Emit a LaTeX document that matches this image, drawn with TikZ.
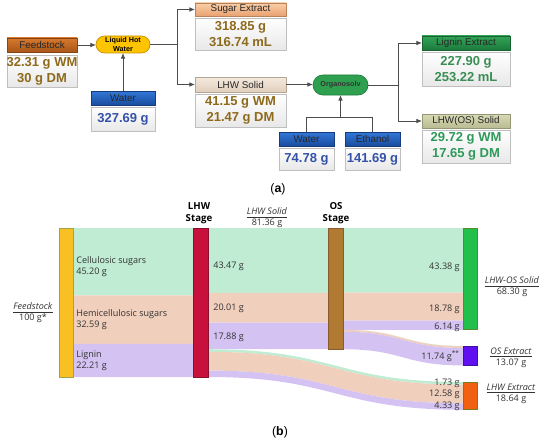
\documentclass[tikz,border=0pt]{standalone}
\usepackage{fontspec}
\setmainfont{Liberation Sans}
\newfontfamily\sk{Open Sans}
\usetikzlibrary{arrows.meta,fit,calc}
\definecolor{fsA}{HTML}{D8792E}\definecolor{fsB}{HTML}{A85618}
\definecolor{seA}{HTML}{F9CFA8}\definecolor{seB}{HTML}{E9A272}
\definecolor{lsA}{HTML}{F4EADF}\definecolor{lsB}{HTML}{E2CFBB}
\definecolor{wA}{HTML}{3278D8}\definecolor{wB}{HTML}{1A4C9E}
\definecolor{leA}{HTML}{33A457}\definecolor{leB}{HTML}{1B7A3C}
\definecolor{loA}{HTML}{D9DBB6}\definecolor{loB}{HTML}{B9BB92}
\definecolor{gold}{HTML}{8E6A1C}
\definecolor{wtxt}{HTML}{3452A8}
\definecolor{gtxt}{HTML}{3A8E55}
\definecolor{g2txt}{HTML}{2E9A5A}
\definecolor{pill}{HTML}{FFC400}\definecolor{pillD}{HTML}{C49200}
\definecolor{osv}{HTML}{2FA050}\definecolor{osvD}{HTML}{1F7F3D}
\definecolor{cel}{HTML}{BFECD2}\definecolor{hem}{HTML}{F0CFBC}\definecolor{lig}{HTML}{D4C2F2}
\definecolor{txt}{HTML}{333333}
\definecolor{fsbar}{HTML}{F8C022}\definecolor{fsbarD}{HTML}{9EA544}
\definecolor{lhbar}{HTML}{C8103C}\definecolor{lhbarD}{HTML}{8A1030}
\definecolor{osbar}{HTML}{B07A32}\definecolor{osbarD}{HTML}{8A5A2A}
\definecolor{sobar}{HTML}{22C04A}\definecolor{sobarD}{HTML}{5A8A30}
\definecolor{oxbar}{HTML}{6010F0}\definecolor{oxbarD}{HTML}{4010A0}
\definecolor{lxbar}{HTML}{F06010}\definecolor{lxbarD}{HTML}{7A7A20}
\newcommand\skband[7]{\fill[#1] (#2,{228+1.49*(#4)}) .. controls ({(#2+#3)/2},{228+1.49*(#4)}) and ({(#2+#3)/2},{228+1.49*(#6)}) .. (#3,{228+1.49*(#6)}) -- (#3,{228+1.49*(#7)}) .. controls ({(#2+#3)/2},{228+1.49*(#7)}) and ({(#2+#3)/2},{228+1.49*(#5)}) .. (#2,{228+1.49*(#5)}) -- cycle;}
\begin{document}
\begin{tikzpicture}[x=0.02cm,y=-0.02cm,
  hdr/.style={inner sep=0pt,outer sep=0pt,draw=#1B!80!black,top color=#1A,bottom color=#1B},
  hl/.style={font=\fontsize{5.6}{6}\selectfont,text=black!85},
  val/.style={inner sep=0pt,outer sep=0pt,draw=black!25,top color=white,bottom color=black!9},
  vl/.style={font=\bfseries\fontsize{7.4}{9}\selectfont,align=center,text=#1},
  arr/.style={draw=black!70,line width=0.45pt,-{Latex[length=3.2pt,width=2.6pt]}},
  ln/.style={draw=black!70,line width=0.45pt},
  bar/.style={inner sep=0pt,outer sep=0pt,line width=0.5pt,fill=#1bar,draw=#1barD},
  st/.style={font=\sk\fontsize{5.15}{6.3}\selectfont,text=txt,align=left,inner sep=0pt},
  sr/.style={font=\sk\fontsize{5.15}{6.3}\selectfont,text=txt,align=right,inner sep=0pt},
  sc/.style={font=\sk\fontsize{5.15}{6.3}\selectfont,text=txt,align=center,inner sep=0pt},
  sb/.style={font=\sk\bfseries\fontsize{5.5}{6.5}\selectfont,text=black,align=center,inner sep=0pt},
  captxt/.style={font=\rmfamily\fontsize{7}{8}\selectfont,inner sep=0pt}]
\useasboundingbox (0,0) rectangle (550,439);
% ---------- (a)
\node[hdr=fs,fit={(7,38)(77,52)},label={[hl]center:Feedstock}] (fs) {};
\node[val,fit={(7,55)(77,87)},label={[vl=gold]center:{32.31 g WM\\30 g DM}}] (fsv) {};
\node[inner sep=0pt,outer sep=0pt,fill=pill,draw=pillD,rounded corners=0.17cm,fit={(96,36)(150,53)},
  label={[font=\bfseries\fontsize{4.1}{4.8}\selectfont,align=center]center:{Liquid Hot\\Water}}] (lhw) {};
\node[hdr=w,fit={(91,91)(155,105)},label={[hl]center:Water}] (w1) {};
\node[val,fit={(91,107)(155,131)},label={[vl=wtxt]center:{327.69 g}}] (w1v) {};
\node[hdr=se,fit={(195,3)(286,16)},label={[hl]center:Sugar Extract}] (se) {};
\node[val,fit={(195,18)(286,50)},label={[vl=gold]center:{318.85 g\\316.74 mL}}] (sev) {};
\node[hdr=ls,fit={(195,77)(286,92)},label={[hl]center:LHW Solid}] (ls) {};
\node[val,fit={(195,94)(286,127)},label={[vl=gold]center:{41.15 g WM\\21.47 g DM}}] (lsv) {};
\node[inner sep=0pt,outer sep=0pt,fill=osv,draw=osvD,rounded corners=0.2cm,fit={(313,75)(368,95)},
  label={[font=\bfseries\fontsize{4.1}{4.8}\selectfont,text=black!80]center:Organosolv}] (og) {};
\node[hdr=le,fit={(422,36)(510,50)},label={[hl]center:Lignin Extract}] (le) {};
\node[val,fit={(422,52)(510,86)},label={[vl=gtxt]center:{227.90 g\\253.22 mL}}] (lev) {};
\node[hdr=lo,fit={(422,114)(510,128)},label={[hl]center:LHW(OS) Solid}] (lo) {};
\node[val,fit={(422,130)(510,163)},label={[vl=g2txt]center:{29.72 g WM\\17.65 g DM}}] (lov) {};
\node[hdr=w,fit={(279,132)(334,146)},label={[hl]center:Water}] (w2) {};
\node[val,fit={(279,148)(334,170)},label={[vl=wtxt]center:{74.78 g}}] (w2v) {};
\node[hdr=w,fit={(345,132)(400,146)},label={[hl]center:Ethanol}] (et) {};
\node[val,fit={(345,148)(400,170)},label={[vl=wtxt]center:{141.69 g}}] (etv) {};
\coordinate (j1) at (177,44.5);
\coordinate (j2) at (398,85);
\coordinate (j3) at (340.5,117);
\draw[arr] (fs.east) -- (fs.east -| lhw.west);
\draw[arr] (w1.north) -- (w1.north |- lhw.south);
\draw[ln] (lhw.east) -- (j1);
\draw[arr] (j1) |- (se.west);
\draw[arr] (j1) |- (ls.west);
\draw[arr] (ls.east) -- (ls.east -| og.west);
\draw[ln] (og.east) -- (j2);
\draw[arr] (j2) |- (le.west);
\draw[arr] (j2) |- (lo.west);
\draw[ln] (w2.north) -- (w2.north |- j3) -- (et.north |- j3) -- (et.north);
\draw[arr] (j3) -- (j3 |- og.south);
\node[captxt] (capa) at (278,189) {(\textbf{a})};
% ---------- (b) flows
\skband{cel}{73}{193}{0}{45.20}{0}{45.20}
\skband{hem}{73}{193}{45.20}{77.79}{45.20}{77.79}
\skband{lig}{73}{193}{77.79}{100}{77.79}{100}
\skband{cel}{208}{328}{0}{43.47}{0}{43.47}
\skband{hem}{208}{328}{43.47}{63.48}{43.47}{63.48}
\skband{lig}{208}{328}{63.48}{81.36}{63.48}{81.36}
\skband{cel}{208}{463}{81.36}{83.09}{103.36}{105.09}
\skband{hem}{208}{463}{83.09}{95.67}{105.09}{117.67}
\skband{lig}{208}{463}{95.67}{100}{117.67}{122}
\skband{cel}{343}{463}{0}{43.38}{0}{43.38}
\skband{hem}{343}{463}{43.38}{62.16}{43.38}{62.16}
\skband{lig}{343}{463}{62.16}{68.30}{62.16}{68.30}
\skband{cel}{343}{463}{68.30}{68.39}{79.19}{79.28}
\skband{hem}{343}{463}{68.39}{69.62}{79.28}{80.51}
\skband{lig}{343}{463}{69.62}{81.36}{80.51}{92.25}
% bars
\node[bar=fs,fit={(59,228)(73,377)}] (bfs) {};
\node[bar=lh,fit={(193,228)(208,377)}] (blh) {};
\node[bar=os,fit={(328,228)(343,349.2)}] (bos) {};
\node[bar=so,fit={(463,228)(477,329.8)}] (bso) {};
\node[bar=ox,fit={(463,346)(477,365.5)}] (box) {};
\node[bar=lx,fit={(463,382)(477,409.8)}] (blx) {};
% labels
\node[sc] (tfs) at (33,313) {\underline{\textit{Feedstock}}\\100 g*};
\node[st,anchor=west] (tcel) at (76,267) {Cellulosic sugars\\45.20 g};
\node[st,anchor=west] (them) at (76,320) {Hemicellulosic sugars\\32.59 g};
\node[st,anchor=west] (tlig) at (76,361) {Lignin\\22.21 g};
\node[sb] (tlhs) at (199,213) {LHW\\Stage};
\node[sb] (toss) at (336,213) {OS\\Stage};
\node[sc] (tlsol) at (267,218) {\underline{\textit{LHW Solid}}\\81.36 g};
\node[st,anchor=west] (t1) at (213,266) {43.47 g};
\node[st,anchor=west] (t2) at (213,308) {20.01 g};
\node[st,anchor=west] (t3) at (213,337) {17.88 g};
\node[sr,anchor=east] (r1) at (460,267) {43.38 g};
\node[sr,anchor=east] (r2) at (460,309) {18.78 g};
\node[sr,anchor=east] (r3) at (460,327) {6.14 g};
\node[sr,anchor=east] (r4) at (460,356) {11.74 g\textsuperscript{**}};
\node[sr,anchor=east] (r5) at (460,383) {1.73 g};
\node[sr,anchor=east] (r6) at (460,394.5) {12.58 g};
\node[sr,anchor=east] (r7) at (460,406) {4.33 g};
\node[sc] (tso) at (512,287) {\underline{\textit{LHW-OS Solid}}\\68.30 g};
\node[sc] (tox) at (511,357.5) {\underline{\textit{OS Extract}}\\13.07 g};
\node[sc] (tlx) at (511,393.5) {\underline{\textit{LHW Extract}}\\18.64 g};
\node[captxt] (capb) at (280,432) {(\textbf{b})};
\end{tikzpicture}
\end{document}
